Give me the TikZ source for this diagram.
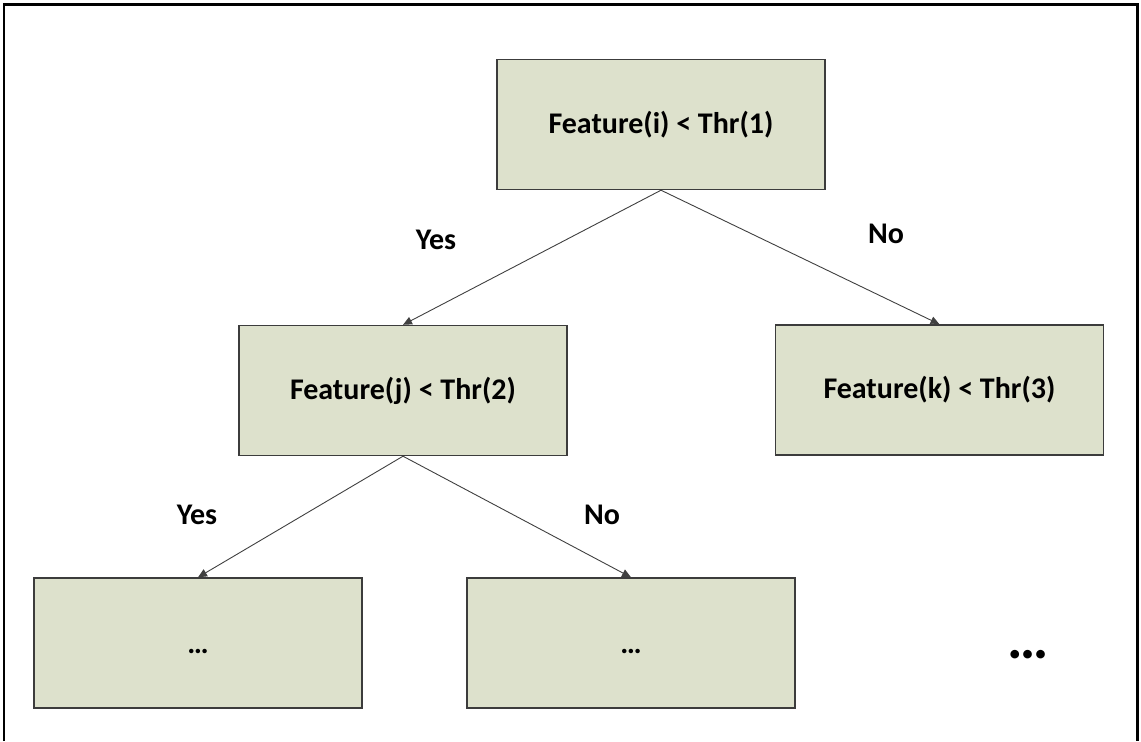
\documentclass[tikz,border=0pt]{standalone}
\usepackage{fontspec}
\setmainfont{Carlito}
\usepackage{xcolor}
\usepackage{tikz}
\usetikzlibrary{arrows.meta, positioning}
\definecolor{boxfill}{RGB}{221,225,204}
\definecolor{boxline}{RGB}{60,60,60}

\begin{document}
\begin{tikzpicture}[
  x = 0.5pt, y = -0.5pt,
  box/.style  = {draw=boxline, line width=0.7pt, fill=boxfill,
                 minimum width=164pt, minimum height=65pt,
                 font=\fontsize{15}{18}\selectfont\bfseries, align=center},
  arr/.style  = {-{Triangle[length=4.5pt, width=4pt]}, draw=black!75, line width=0.45pt},
  lbl/.style  = {font=\fontsize{15}{18}\selectfont\bfseries}
]
% Frame
\useasboundingbox (0,0) rectangle (1141,741);
\draw[line width=1.1pt] (4,741) -- (4,4.5) -- (1137.5,4.5) -- (1137.5,741);

% Nodes
\node[box] (root)  at (661,124.5) {Feature(i) < Thr(1)};
\node[box] (nodej) at (403,390.5) {Feature(j) < Thr(2)};
\node[box] (nodek) at (939.5,390) {Feature(k) < Thr(3)};
\node[box] (leafa) at (198,643)   {\strut\raisebox{-1.5pt}{…}};
\node[box] (leafb) at (631,643)   {\strut\raisebox{-1.5pt}{…}};
\node[lbl, font=\fontsize{29}{32}\selectfont\bfseries] (more) at (1028,655) {…};

% Arrows
\draw[arr] (root.south)  -- (nodej.north);
\draw[arr] (root.south)  -- (nodek.north);
\draw[arr] (nodej.south) -- (leafa.north);
\draw[arr] (nodej.south) -- (leafb.north);

% Branch labels
\node[lbl] (yesi) at (436,240) {Yes};
\node[lbl] (noi)  at (886,234) {No};
\node[lbl] (yesj) at (197,515) {Yes};
\node[lbl] (noj)  at (602,515) {No};
\end{tikzpicture}
\end{document}
